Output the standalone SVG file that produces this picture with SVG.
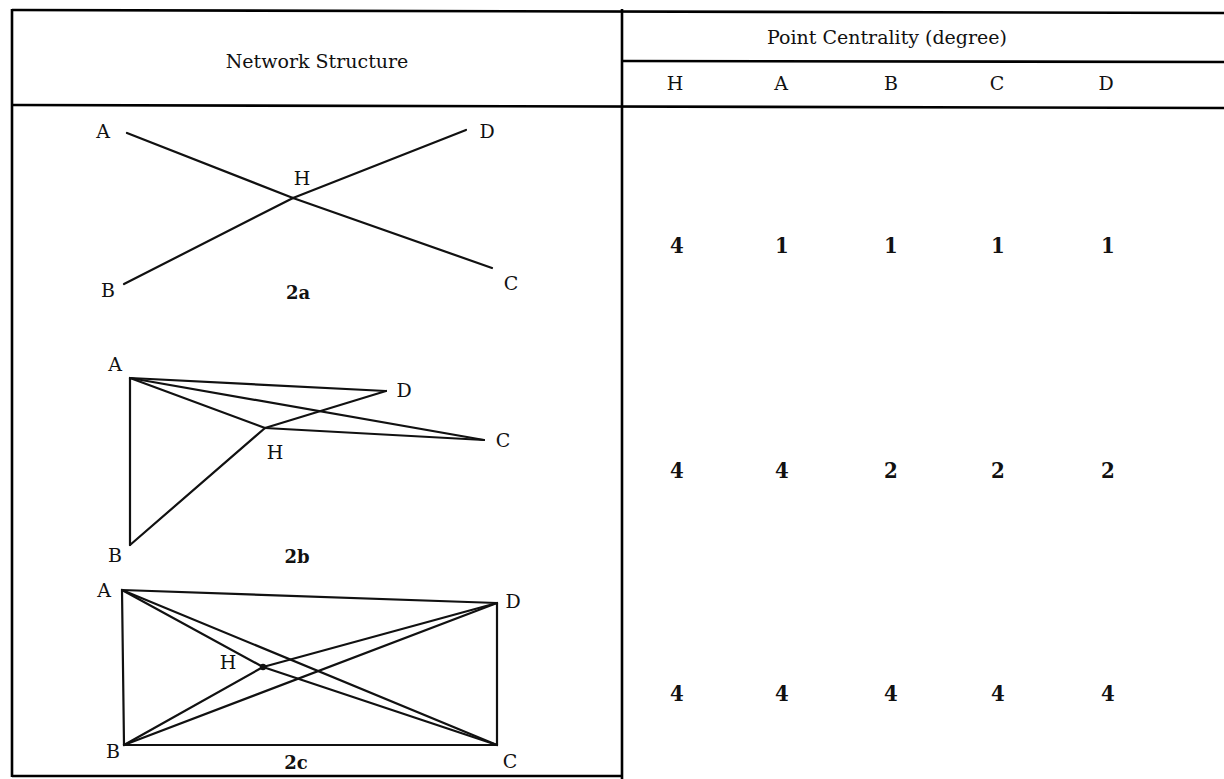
<svg xmlns="http://www.w3.org/2000/svg" width="1224" height="779" viewBox="0 0 1224 779">
  <style>
    .rule { stroke: #000; stroke-width: 2.6; fill: none; }
    .edge { stroke: #111; stroke-width: 2.2; stroke-linecap: round; fill: none; }
    .head { font-family: "DejaVu Serif", "Liberation Serif", serif; font-size: 19px; fill: #111; text-anchor: middle; dominant-baseline: central; }
    .lbl { font-family: "DejaVu Serif", "Liberation Serif", serif; font-size: 19px; fill: #111; text-anchor: middle; dominant-baseline: central; }
    .num { font-family: "DejaVu Serif Condensed", "DejaVu Serif", serif; font-weight: bold; font-size: 22px; fill: #111; text-anchor: middle; dominant-baseline: central; }
    .cap { font-family: "DejaVu Serif", "Liberation Serif", serif; font-weight: bold; font-size: 18px; fill: #111; text-anchor: middle; dominant-baseline: central; }
  </style>
  <rect width="1224" height="779" fill="#fff"/>

  <!-- table rules -->
  <g id="table">
    <line class="rule" x1="12" y1="10" x2="1224" y2="13"/>
    <line class="rule" x1="12" y1="105" x2="1224" y2="108"/>
    <line class="rule" x1="622" y1="61" x2="1224" y2="62"/>
    <line class="rule" x1="12" y1="9" x2="12" y2="777"/>
    <line class="rule" x1="622" y1="9" x2="622" y2="779"/>
    <line class="rule" x1="12" y1="776" x2="622" y2="776"/>
  </g>

  <!-- headers -->
  <g id="headers">
    <text class="head" x="317" y="61">Network Structure</text>
    <text class="head" x="887" y="37">Point Centrality (degree)</text>
    <text class="head" x="675" y="83">H</text>
    <text class="head" x="781" y="83">A</text>
    <text class="head" x="891" y="83">B</text>
    <text class="head" x="997" y="83">C</text>
    <text class="head" x="1106" y="83">D</text>
  </g>

  <!-- degree values -->
  <g id="values">
    <text class="num" x="677" y="245">4</text>
    <text class="num" x="782" y="245">1</text>
    <text class="num" x="891" y="245">1</text>
    <text class="num" x="998" y="245">1</text>
    <text class="num" x="1108" y="245">1</text>

    <text class="num" x="677" y="470">4</text>
    <text class="num" x="782" y="470">4</text>
    <text class="num" x="891" y="470">2</text>
    <text class="num" x="998" y="470">2</text>
    <text class="num" x="1108" y="470">2</text>

    <text class="num" x="677" y="693">4</text>
    <text class="num" x="782" y="693">4</text>
    <text class="num" x="891" y="693">4</text>
    <text class="num" x="998" y="693">4</text>
    <text class="num" x="1108" y="693">4</text>
  </g>

  <!-- network 2a: star -->
  <g id="net-2a">
    <g id="connectors-2a">
      <line class="edge" x1="127" y1="133" x2="293" y2="198"/>
      <line class="edge" x1="293" y1="198" x2="492" y2="268"/>
      <line class="edge" x1="124" y1="284" x2="293" y2="198"/>
      <line class="edge" x1="293" y1="198" x2="466" y2="130"/>
    </g>
    <g id="n2a-A"><text class="lbl" x="103" y="131">A</text></g>
    <g id="n2a-D"><text class="lbl" x="487" y="131">D</text></g>
    <g id="n2a-H"><text class="lbl" x="302" y="178">H</text></g>
    <g id="n2a-B"><text class="lbl" x="108" y="290">B</text></g>
    <g id="n2a-C"><text class="lbl" x="511" y="283">C</text></g>
    <g id="cap-2a"><text class="cap" x="298" y="292">2a</text></g>
  </g>

  <!-- network 2b -->
  <g id="net-2b">
    <g id="connectors-2b">
      <line class="edge" x1="130" y1="378" x2="130" y2="545"/>
      <line class="edge" x1="130" y1="378" x2="386" y2="391"/>
      <line class="edge" x1="130" y1="378" x2="484" y2="440"/>
      <line class="edge" x1="130" y1="378" x2="265" y2="428"/>
      <line class="edge" x1="130" y1="545" x2="265" y2="428"/>
      <line class="edge" x1="265" y1="428" x2="386" y2="391"/>
      <line class="edge" x1="265" y1="428" x2="484" y2="440"/>
    </g>
    <g id="n2b-A"><text class="lbl" x="115" y="364">A</text></g>
    <g id="n2b-D"><text class="lbl" x="404" y="390">D</text></g>
    <g id="n2b-H"><text class="lbl" x="275" y="452">H</text></g>
    <g id="n2b-C"><text class="lbl" x="503" y="440">C</text></g>
    <g id="n2b-B"><text class="lbl" x="115" y="555">B</text></g>
    <g id="cap-2b"><text class="cap" x="297" y="556">2b</text></g>
  </g>

  <!-- network 2c: complete graph -->
  <g id="net-2c">
    <g id="connectors-2c">
      <line class="edge" x1="122" y1="590" x2="124" y2="745"/>
      <line class="edge" x1="124" y1="745" x2="497" y2="745"/>
      <line class="edge" x1="497" y1="745" x2="497" y2="603"/>
      <line class="edge" x1="122" y1="590" x2="497" y2="603"/>
      <line class="edge" x1="122" y1="590" x2="497" y2="745"/>
      <line class="edge" x1="124" y1="745" x2="497" y2="603"/>
      <line class="edge" x1="122" y1="590" x2="263" y2="667"/>
      <line class="edge" x1="263" y1="667" x2="497" y2="745"/>
      <line class="edge" x1="124" y1="745" x2="263" y2="667"/>
      <line class="edge" x1="263" y1="667" x2="497" y2="603"/>
    </g>
    <g id="n2c-H"><circle cx="263" cy="667" r="3.2" fill="#111"/><text class="lbl" x="228" y="662">H</text></g>
    <g id="n2c-A"><text class="lbl" x="104" y="590">A</text></g>
    <g id="n2c-D"><text class="lbl" x="513" y="601">D</text></g>
    <g id="n2c-B"><text class="lbl" x="113" y="751">B</text></g>
    <g id="n2c-C"><text class="lbl" x="510" y="761">C</text></g>
    <g id="cap-2c"><text class="cap" x="296" y="762">2c</text></g>
  </g>
</svg>
